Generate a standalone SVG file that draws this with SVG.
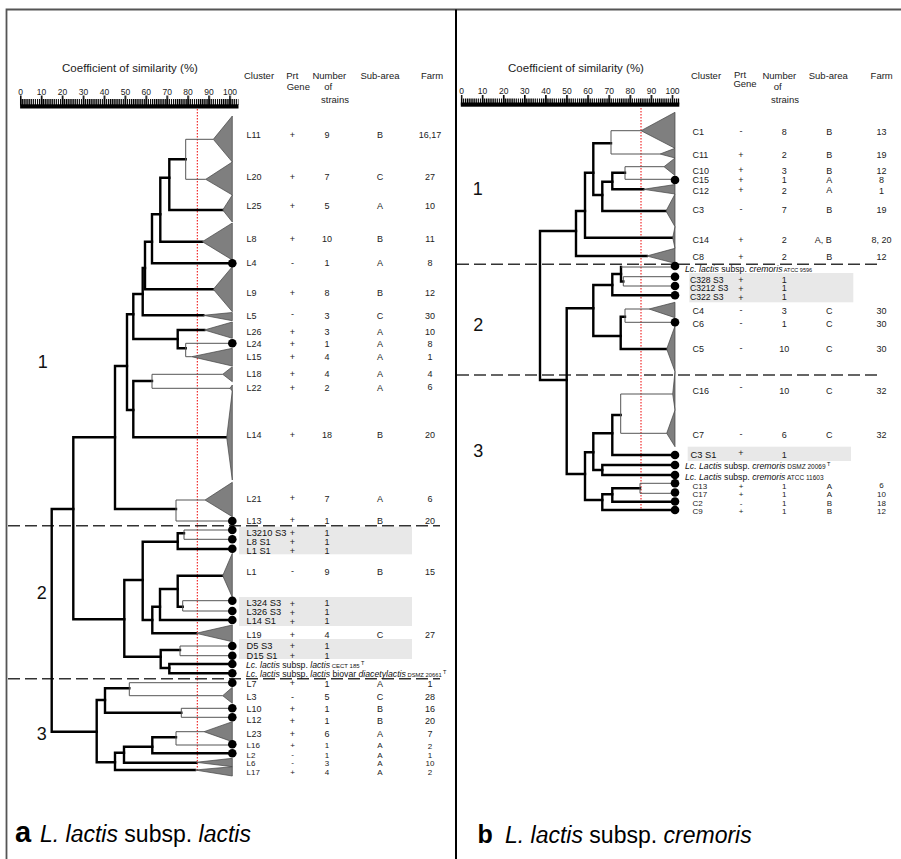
<svg xmlns="http://www.w3.org/2000/svg" width="901" height="859" viewBox="0 0 901 859">
<style>
.ln{fill:none;stroke:#000;stroke-width:2.4;stroke-linecap:square}
.tn{fill:none;stroke:#555;stroke-width:1}
.tri{fill:#7f7f7f;stroke:#444;stroke-width:0.7}
.dt{fill:#000}
.t{font-family:"Liberation Sans",Arial,Helvetica,sans-serif;font-size:9px;fill:#222}
.c{text-anchor:middle}
.hd{font-size:9.5px}
.sc{font-size:8.5px;text-anchor:middle}
.st{font-size:9.3px;fill:#111}
.sr{font-size:8.6px;fill:#111}
.sp{font-size:8.7px;fill:#111}
.dn{font-size:8px}
.ttl{font-size:11.5px;text-anchor:middle}
.big{font-size:18px;fill:#111;text-anchor:middle}
.dash{fill:none;stroke:#333;stroke-width:1.5;stroke-dasharray:12 5}
.red{fill:none;stroke:#e00;stroke-width:1;stroke-dasharray:1.5 1.5}
.box{fill:#e8e8e8}
.i{font-style:italic}
</style>
<defs>
<pattern id="tkL" patternUnits="userSpaceOnUse" x="20.1" y="0" width="2.093" height="10"><rect width="1.3" height="10" fill="#000"/></pattern>
<pattern id="mjL" patternUnits="userSpaceOnUse" x="19.9" y="0" width="20.93" height="10"><rect width="1.6" height="10" fill="#000"/></pattern>
<pattern id="tkR" patternUnits="userSpaceOnUse" x="460.8" y="0" width="2.11" height="10"><rect width="1.3" height="10" fill="#000"/></pattern>
<pattern id="mjR" patternUnits="userSpaceOnUse" x="460.7" y="0" width="21.1" height="10"><rect width="1.6" height="10" fill="#000"/></pattern>
</defs>
<rect width="901" height="859" fill="#fff"/>
<!-- frame -->
<g id="frame">
<path d="M6.5 859 V9.5 H901" fill="none" stroke="#555" stroke-width="1.8"/>
<path d="M456 9.5 V859" fill="none" stroke="#000" stroke-width="2"/>
</g>
<!-- highlight boxes -->
<g id="boxes">
<rect class="box" x="239" y="526.7" width="173" height="27.6"/>
<rect class="box" x="239" y="597" width="173" height="29"/>
<rect class="box" x="239" y="639" width="173" height="20"/>
<rect class="box" x="689.3" y="273" width="164" height="29.3"/>
<rect class="box" x="687.7" y="446.7" width="163.3" height="14.3"/>
</g>
<!-- scales -->
<g id="scale-a">
<text class="t ttl" x="130" y="71.5">Coefficient of similarity (%)</text>
<rect x="20.1" y="99" width="218.4" height="6" fill="url(#tkL)"/>
<rect x="19.9" y="95.5" width="212" height="10" fill="url(#mjL)"/>
<rect x="20.1" y="104.3" width="218.4" height="4.2" fill="#000"/>
<g class="t sc">
<text x="20.7" y="94.5">0</text><text x="41.6" y="94.5">10</text><text x="62.6" y="94.5">20</text><text x="83.5" y="94.5">30</text><text x="104.4" y="94.5">40</text><text x="125.4" y="94.5">50</text><text x="146.3" y="94.5">60</text><text x="167.2" y="94.5">70</text><text x="188.1" y="94.5">80</text><text x="209.1" y="94.5">90</text><text x="230" y="94.5">100</text>
</g>
<g class="t hd c">
<text x="259" y="78.7">Cluster</text>
<text x="292.3" y="78.7">Prt</text><text x="298.3" y="89.5">Gene</text>
<text x="329.3" y="78.7">Number</text><text x="328.3" y="90">of</text><text x="335" y="103.3">strains</text>
<text x="380" y="78.7">Sub-area</text>
<text x="432" y="78.7">Farm</text>
</g>
</g>
<g id="scale-b">
<text class="t ttl" x="576" y="71.5">Coefficient of similarity (%)</text>
<rect x="460.8" y="98.5" width="218.5" height="6" fill="url(#tkR)"/>
<rect x="460.7" y="95" width="213" height="10" fill="url(#mjR)"/>
<rect x="460.8" y="102.5" width="218.5" height="4.2" fill="#000"/>
<g class="t sc">
<text x="461.5" y="94">0</text><text x="482.6" y="94">10</text><text x="503.7" y="94">20</text><text x="524.8" y="94">30</text><text x="545.9" y="94">40</text><text x="567" y="94">50</text><text x="588.1" y="94">60</text><text x="609.2" y="94">70</text><text x="630.3" y="94">80</text><text x="651.4" y="94">90</text><text x="672.5" y="94">100</text>
</g>
<g class="t hd c">
<text x="706" y="78.7">Cluster</text>
<text x="740" y="77.5">Prt</text><text x="745" y="87">Gene</text>
<text x="779.3" y="78.7">Number</text><text x="777.7" y="90">of</text><text x="785" y="103.3">strains</text>
<text x="828.3" y="78.7">Sub-area</text>
<text x="881.7" y="78.7">Farm</text>
</g>
</g>
<!-- cut lines -->
<g id="cuts">
<line class="red" x1="197.3" y1="109" x2="197.3" y2="771"/>
<line class="red" x1="641" y1="108" x2="641" y2="511"/>
<line class="dash" x1="8" y1="525.7" x2="440" y2="525.7"/>
<line class="dash" x1="8" y1="678.7" x2="440" y2="678.7"/>
<line class="dash" x1="457" y1="264.3" x2="880" y2="264.3"/>
<line class="dash" x1="457" y1="375" x2="880" y2="375"/>
</g>
<!-- connectors -->
<g id="connectors">
<path class="ln" d="M185.7 159.3 H169.3 V210 H222.7"/>
<path class="ln" d="M169.3 177.7 H160.3 V241.7 H202.3"/>
<path class="ln" d="M160.3 214.3 H152 V263.3 H228"/>
<path class="ln" d="M152 241.7 H145 V289.3 H213.3"/>
<path class="ln" d="M145 268 H142.7 V315.3 H203.3"/>
<path class="ln" d="M142.7 294 H133.3 V339 H177.7"/>
<path class="ln" d="M204.3 330 H177.7 V348.3 H185.7"/>
<path class="ln" d="M133.3 314.3 H127 V410 H133.3"/>
<path class="ln" d="M152 381 H133.3 V437.3 H226.7"/>
<path class="ln" d="M127 366 H115 V509 H176"/>
<path class="ln" d="M115 437.3 H73.3 V619.3 H124.3"/>
<path class="ln" d="M73.3 509 H51.7 V731.7 H96.7"/>
<path class="ln" d="M142.7 580 H124.3 V656.7 H160.7"/>
<path class="ln" d="M177.7 541.7 H142.7 V620 H152.3"/>
<path class="ln" d="M184 533.3 H177.7 V549 H228"/>
<path class="ln" d="M160 606.7 H152.3 V633.3 H196"/>
<path class="ln" d="M177.7 589 H160 V620 H228"/>
<path class="ln" d="M222.7 575.7 H177.7 V606.7 H182.7"/>
<path class="ln" d="M180 650 H160.7 V668 H169.3"/>
<path class="ln" d="M228 664 H169.3 V673.3 H228"/>
<path class="ln" d="M105 700 H96.7 V762.3 H115"/>
<path class="ln" d="M129.3 688.3 H105 V712.7 H181.3"/>
<path class="ln" d="M124 752.7 H115 V770 H195"/>
<path class="ln" d="M152.3 746.7 H124 V762.7 H196"/>
<path class="ln" d="M176 737.3 H152.3 V753.3 H228"/>
<path class="tn" d="M213.3 139.3 H185.7 V179.3 H205.7"/>
<path class="tn" d="M232.3 343.3 H185.7 V356.7 H191.7"/>
<path class="tn" d="M222.7 374.3 H152 V388.3 H230"/>
<path class="tn" d="M205 500 H176 V521 H232.3"/>
<path class="tn" d="M232.3 530 H184 V539.3 H232.3"/>
<path class="tn" d="M232.3 600.7 H182.7 V611 H232.3"/>
<path class="tn" d="M232.3 646 H180 V655.7 H232.3"/>
<path class="tn" d="M232.3 682.7 H129.3 V695.7 H222.7"/>
<path class="tn" d="M232.3 708.3 H181.3 V717.3 H232.3"/>
<path class="tn" d="M204 731.7 H176 V745 H232.3"/>
<path class="ln" d="M611 143.3 H593.3 V195 H602.3"/>
<path class="ln" d="M625 172.7 H612.3 V189.3 H643.3"/>
<path class="ln" d="M612.3 181.7 H602.3 V211 H666"/>
<path class="ln" d="M593.3 172.7 H585 V237.7 H672.7"/>
<path class="ln" d="M585 211 H576 V256 H646.7"/>
<path class="ln" d="M576 231 H540 V380 H566.7"/>
<path class="ln" d="M593.3 308.3 H566.7 V474 H585"/>
<path class="ln" d="M612.3 285 H593.3 V336 H620.7"/>
<path class="ln" d="M621 274 H612.3 V295.3 H671"/>
<path class="ln" d="M623.3 281.5 H621 V267"/>
<path class="ln" d="M625 316.7 H620.7 V349 H666.7"/>
<path class="ln" d="M593.3 452.3 H585 V500 H602.3"/>
<path class="ln" d="M612.3 433.3 H593.3 V470 H602.3"/>
<path class="ln" d="M620.7 415 H612.3 V455 H671"/>
<path class="ln" d="M671 465 H602.3 V475 H671"/>
<path class="ln" d="M612.3 494.3 H602.3 V510 H671"/>
<path class="ln" d="M640 488.3 H612.3 V501.7 H671"/>
<path class="tn" d="M641 130.7 H611 V154 H660"/>
<path class="tn" d="M664 166.7 H625 V179.3 H675"/>
<path class="tn" d="M621 267 H675"/>
<path class="tn" d="M675 276.7 H623.3 V286 H675"/>
<path class="tn" d="M649 309 H625 V322.3 H675"/>
<path class="tn" d="M672.7 394 H620.7 V433.3 H666.7"/>
<path class="tn" d="M675 483.3 H640 V493.3 H675"/>
</g>
<!-- left leaves -->
<g id="leaves-a">
<polygon class="tri" points="213.3,139.3 232.3,116 232.3,162"/>
<polygon class="tri" points="205.7,179.3 232.3,162 232.3,195"/>
<polygon class="tri" points="222.7,210 232.3,195 232.3,222"/>
<polygon class="tri" points="202.3,241.7 232.3,223 232.3,260"/>
<polygon class="tri" points="213.3,289.3 232.3,266.7 232.3,311.7"/>
<polygon class="tri" points="203.3,315.3 232.3,312.5 232.3,320.7"/>
<polygon class="tri" points="204.3,330 232.3,322 232.3,338.3"/>
<polygon class="tri" points="191.7,356.7 232.3,348.3 232.3,366"/>
<polygon class="tri" points="222.7,374.3 232.3,366.7 232.3,381.7"/>
<polygon class="tri" points="230,388.3 232.3,385 232.3,391"/>
<polygon class="tri" points="226.7,437.3 232.3,391 232.3,480"/>
<polygon class="tri" points="205,500 232.3,482.3 232.3,516.7"/>
<polygon class="tri" points="222.7,575.7 232.3,553.3 232.3,597.3"/>
<polygon class="tri" points="196,633.3 232.3,625 232.3,641.7"/>
<polygon class="tri" points="222.7,695.7 232.3,687.3 232.3,703.3"/>
<polygon class="tri" points="204,731.7 232.3,721.7 232.3,741.7"/>
<polygon class="tri" points="196,762.3 232.3,758.3 232.3,766.7"/>
<polygon class="tri" points="195,770 232.3,766.7 232.3,776"/>
<g class="dt">
<circle cx="232.3" cy="263.3" r="4.3"/><circle cx="232.3" cy="343.3" r="4.3"/><circle cx="232.3" cy="521" r="4.3"/>
<circle cx="232.3" cy="530" r="4.3"/><circle cx="232.3" cy="539.3" r="4.3"/><circle cx="232.3" cy="548.7" r="4.3"/>
<circle cx="232.3" cy="600.7" r="4.3"/><circle cx="232.3" cy="611" r="4.3"/><circle cx="232.3" cy="620" r="4.3"/>
<circle cx="232.3" cy="646" r="4.3"/><circle cx="232.3" cy="655.7" r="4.3"/><circle cx="232.3" cy="664" r="4.3"/><circle cx="232.3" cy="673.3" r="4.3"/><circle cx="232.3" cy="682.7" r="4.3"/>
<circle cx="232.3" cy="708.3" r="4.3"/><circle cx="232.3" cy="717.3" r="4.3"/>
<circle cx="232.3" cy="744.3" r="4.3"/><circle cx="232.3" cy="753.3" r="4.3"/>
</g>
</g>
<!-- left table -->
<g id="table-a" class="t">
<g id="L11"><text x="246.5" y="138.2">L11</text><text class="c" x="292.5" y="138.2">+</text><text class="c" x="327" y="138.2">9</text><text class="c" x="380" y="138.2">B</text><text class="c" x="430" y="138.2">16,17</text></g>
<g id="L20"><text x="246.5" y="180.2">L20</text><text class="c" x="292.5" y="180.2">+</text><text class="c" x="327" y="180.2">7</text><text class="c" x="380" y="180.2">C</text><text class="c" x="430" y="180.2">27</text></g>
<g id="L25"><text x="246.5" y="209.2">L25</text><text class="c" x="292.5" y="209.2">+</text><text class="c" x="327" y="209.2">5</text><text class="c" x="380" y="209.2">A</text><text class="c" x="430" y="209.2">10</text></g>
<g id="L8"><text x="246.5" y="242.2">L8</text><text class="c" x="292.5" y="242.2">+</text><text class="c" x="327" y="242.2">10</text><text class="c" x="380" y="242.2">B</text><text class="c" x="430" y="242.2">11</text></g>
<g id="L4"><text x="246.5" y="265.5">L4</text><text class="c" x="292.5" y="265.5">-</text><text class="c" x="327" y="265.5">1</text><text class="c" x="380" y="265.5">A</text><text class="c" x="430" y="265.5">8</text></g>
<g id="L9"><text x="246.5" y="296.2">L9</text><text class="c" x="292.5" y="296.2">+</text><text class="c" x="327" y="296.2">8</text><text class="c" x="380" y="296.2">B</text><text class="c" x="430" y="296.2">12</text></g>
<g id="L5"><text x="246.5" y="319.2">L5</text><text class="c" x="292.5" y="317">-</text><text class="c" x="327" y="319.2">3</text><text class="c" x="380" y="319.2">C</text><text class="c" x="430" y="319.2">30</text></g>
<g id="L26"><text x="246.5" y="335.2">L26</text><text class="c" x="292.5" y="335.2">+</text><text class="c" x="327" y="335.2">3</text><text class="c" x="380" y="335.2">A</text><text class="c" x="430" y="335.2">10</text></g>
<g id="L24"><text x="246.5" y="347.2">L24</text><text class="c" x="292.5" y="347.2">+</text><text class="c" x="327" y="347.2">1</text><text class="c" x="380" y="347.2">A</text><text class="c" x="430" y="347.2">8</text></g>
<g id="L15"><text x="246.5" y="360.2">L15</text><text class="c" x="292.5" y="360.2">+</text><text class="c" x="327" y="360.2">4</text><text class="c" x="380" y="360.2">A</text><text class="c" x="430" y="360.2">1</text></g>
<g id="L18"><text x="246.5" y="376.9">L18</text><text class="c" x="292.5" y="376.9">+</text><text class="c" x="327" y="376.9">4</text><text class="c" x="380" y="376.9">A</text><text class="c" x="430" y="376.9">4</text></g>
<g id="L22"><text x="246.5" y="391.2">L22</text><text class="c" x="292.5" y="391.2">+</text><text class="c" x="327" y="391.2">2</text><text class="c" x="380" y="391.2">A</text><text class="c" x="430" y="390">6</text></g>
<g id="L14"><text x="246.5" y="438.2">L14</text><text class="c" x="292.5" y="438.2">+</text><text class="c" x="327" y="438.2">18</text><text class="c" x="380" y="438.2">B</text><text class="c" x="430" y="438.2">20</text></g>
<g id="L21"><text x="246.5" y="502.2">L21</text><text class="c" x="292.5" y="500.5">+</text><text class="c" x="327" y="502.2">7</text><text class="c" x="380" y="502.2">A</text><text class="c" x="430" y="502.2">6</text></g>
<g id="L13"><text x="246.5" y="524.2">L13</text><text class="c" x="292.5" y="522.5">+</text><text class="c" x="327" y="524.2">1</text><text class="c" x="380" y="524.2">B</text><text class="c" x="430" y="524.2">20</text></g>
<g id="L3210S3"><text class="st" x="246.5" y="535.5">L3210 S3</text><text class="c" x="292.5" y="535.5">+</text><text class="c" x="327" y="535.5">1</text></g>
<g id="L8S1"><text class="st" x="246.5" y="544.5">L8 S1</text><text class="c" x="292.5" y="545">+</text><text class="c" x="327" y="544.5">1</text></g>
<g id="L1S1"><text class="st" x="246.5" y="553.5">L1 S1</text><text class="c" x="292.5" y="554">+</text><text class="c" x="327" y="553.5">1</text></g>
<g id="L1"><text x="246.5" y="575.2">L1</text><text class="c" x="292.5" y="574">-</text><text class="c" x="327" y="575.2">9</text><text class="c" x="380" y="575.2">B</text><text class="c" x="430" y="575.2">15</text></g>
<g id="L324S3"><text class="st" x="246.5" y="606.2">L324 S3</text><text class="c" x="292.5" y="607">+</text><text class="c" x="327" y="605.5">1</text></g>
<g id="L326S3"><text class="st" x="246.5" y="614.9">L326 S3</text><text class="c" x="292.5" y="616">+</text><text class="c" x="327" y="614.5">1</text></g>
<g id="L14S1"><text class="st" x="246.5" y="624.2">L14 S1</text><text class="c" x="292.5" y="625">+</text><text class="c" x="327" y="624.2">1</text></g>
<g id="L19"><text x="246.5" y="638.2">L19</text><text class="c" x="292.5" y="638.2">+</text><text class="c" x="327" y="638.2">4</text><text class="c" x="380" y="638.2">C</text><text class="c" x="430" y="638.2">27</text></g>
<g id="D5S3"><text class="st" x="246.5" y="649.2">D5 S3</text><text class="c" x="292.5" y="649.2">+</text><text class="c" x="327" y="649.2">1</text></g>
<g id="D15S1"><text class="st" x="246.5" y="658.9">D15 S1</text><text class="c" x="292.5" y="658.9">+</text><text class="c" x="327" y="658.9">1</text></g>
<g id="CECT185"><text class="sp" x="246" y="668.2"><tspan class="i">Lc. lactis</tspan> subsp. <tspan class="i">lactis</tspan><tspan font-size="6"> CECT 185</tspan><tspan font-size="5.5" dy="-3"> T</tspan></text></g>
<g id="DSMZ20661"><text class="sp" x="246" y="677.2"><tspan class="i">Lc. lactis</tspan> subsp. <tspan class="i">lactis</tspan> biovar <tspan class="i">diacetylactis</tspan><tspan font-size="5.8"> DSMZ 20661</tspan><tspan font-size="5.5" dy="-3"> T</tspan></text></g>
<g id="L7"><text x="246.5" y="686.5">L7</text><text class="c" x="292.5" y="685.5">+</text><text class="c" x="327" y="686.5">1</text><text class="c" x="380" y="686.5">A</text><text class="c" x="430" y="686.5">1</text></g>
<g id="L3"><text x="246.5" y="699.9">L3</text><text class="c" x="292.5" y="699.9">-</text><text class="c" x="327" y="699.9">5</text><text class="c" x="380" y="699.9">C</text><text class="c" x="430" y="699.9">28</text></g>
<g id="L10"><text x="246.5" y="712.2">L10</text><text class="c" x="292.5" y="712.2">+</text><text class="c" x="327" y="712.2">1</text><text class="c" x="380" y="712.2">B</text><text class="c" x="430" y="712.2">16</text></g>
<g id="L12"><text x="246.5" y="722.5">L12</text><text class="c" x="292.5" y="723.5">+</text><text class="c" x="327" y="723.5">1</text><text class="c" x="380" y="723.5">B</text><text class="c" x="430" y="723.5">20</text></g>
<g id="L23"><text x="246.5" y="736.5">L23</text><text class="c" x="292.5" y="736.5">+</text><text class="c" x="327" y="736.5">6</text><text class="c" x="380" y="736.5">A</text><text class="c" x="430" y="736.5">7</text></g>
<g id="L16" class="dn"><text x="246.5" y="748">L16</text><text class="c" x="292.5" y="748">+</text><text class="c" x="327" y="748">1</text><text class="c" x="380" y="748">A</text><text class="c" x="430" y="748.5">2</text></g>
<g id="L2" class="dn"><text x="246.5" y="757.5">L2</text><text class="c" x="292.5" y="756.5">-</text><text class="c" x="327" y="757.5">1</text><text class="c" x="380" y="757.5">A</text><text class="c" x="430" y="757.5">1</text></g>
<g id="L6" class="dn"><text x="246.5" y="766.3">L6</text><text class="c" x="292.5" y="765.3">-</text><text class="c" x="327" y="766.3">3</text><text class="c" x="380" y="766.3">A</text><text class="c" x="430" y="766.3">10</text></g>
<g id="L17" class="dn"><text x="246.5" y="775.3">L17</text><text class="c" x="292.5" y="775.3">+</text><text class="c" x="327" y="775.3">4</text><text class="c" x="380" y="775.3">A</text><text class="c" x="430" y="775.3">2</text></g>
</g>
<!-- right leaves -->
<g id="leaves-b">
<polygon class="tri" points="641,130.7 675,112.3 675,148.3"/>
<polygon class="tri" points="660,154 675,148.3 675,158"/>
<polygon class="tri" points="664,166.7 675,158 675,175.5"/>
<polygon class="tri" points="643.3,189.3 675,184.5 675,194"/>
<polygon class="tri" points="666,211 675,194 675,226.7"/>
<polygon class="tri" points="672.7,237.7 675,226.7 675,248.3"/>
<polygon class="tri" points="646.7,256 675,248.3 675,263.3"/>
<polygon class="tri" points="649,309 675,302.3 675,317.7"/>
<polygon class="tri" points="666.7,349 675,326 675,371.7"/>
<polygon class="tri" points="672.7,394 675,371.7 675,410"/>
<polygon class="tri" points="666.7,433.3 675,410 675,446.7"/>
<g class="dt">
<circle cx="675" cy="180" r="4.3"/>
<circle cx="675" cy="266" r="4.3"/><circle cx="675" cy="276.7" r="4.3"/><circle cx="675" cy="286" r="4.3"/><circle cx="675" cy="295.3" r="4.3"/>
<circle cx="675" cy="322.3" r="4.3"/>
<circle cx="675" cy="455" r="4.3"/><circle cx="675" cy="465" r="4.3"/><circle cx="675" cy="475" r="4.3"/><circle cx="675" cy="483.3" r="4.3"/><circle cx="675" cy="492.5" r="4.3"/><circle cx="675" cy="501.5" r="4.3"/><circle cx="675" cy="510" r="4.3"/>
</g>
</g>
<!-- right table -->
<g id="table-b" class="t">
<g id="C1"><text x="692.5" y="134.9">C1</text><text class="c" x="741" y="133.5">-</text><text class="c" x="784.3" y="134.9">8</text><text class="c" x="829.3" y="134.9">B</text><text class="c" x="881.5" y="134.9">13</text></g>
<g id="C11"><text x="692.5" y="157.5">C11</text><text class="c" x="741" y="157.5">+</text><text class="c" x="784.3" y="157.5">2</text><text class="c" x="829.3" y="157.5">B</text><text class="c" x="881.5" y="157.5">19</text></g>
<g id="C10"><text x="692.5" y="173.9">C10</text><text class="c" x="741" y="172.5">+</text><text class="c" x="784.3" y="173.9">3</text><text class="c" x="829.3" y="173.9">B</text><text class="c" x="881.5" y="173.9">12</text></g>
<g id="C15"><text x="692.5" y="183.2">C15</text><text class="c" x="741" y="183.2">+</text><text class="c" x="784.3" y="183.2">1</text><text class="c" x="829.3" y="183.2">A</text><text class="c" x="881.5" y="183.2">8</text></g>
<g id="C12"><text x="692.5" y="194.2">C12</text><text class="c" x="741" y="192.5">+</text><text class="c" x="784.3" y="194.2">2</text><text class="c" x="829.3" y="192.5">A</text><text class="c" x="881.5" y="194.2">1</text></g>
<g id="C3"><text x="692.5" y="213.2">C3</text><text class="c" x="741" y="212">-</text><text class="c" x="784.3" y="213.2">7</text><text class="c" x="829.3" y="213.2">B</text><text class="c" x="881.5" y="213.2">19</text></g>
<g id="C14"><text x="692.5" y="242.5">C14</text><text class="c" x="741" y="242.5">+</text><text class="c" x="784.3" y="242.5">2</text><text class="c" x="823.3" y="242.5">A, B</text><text class="c" x="881.5" y="242.5">8, 20</text></g>
<g id="C8"><text x="692.5" y="259.9">C8</text><text class="c" x="741" y="259.9">+</text><text class="c" x="784.3" y="259.9">2</text><text class="c" x="829.3" y="259.9">B</text><text class="c" x="881.5" y="259.9">12</text></g>
<g id="ATCC9596"><text class="sp" x="685" y="272.3"><tspan class="i">Lc. lactis</tspan> subsp. <tspan class="i">cremoris</tspan><tspan font-size="5.5"> ATCC 9596</tspan></text></g>
<g id="C328S3"><text class="sr" x="690" y="282.6">C328 S3</text><text class="c" x="741" y="283.3">+</text><text class="c" x="784.3" y="282.6">1</text></g>
<g id="C3212S3"><text class="sr" x="690" y="291.2">C3212 S3</text><text class="c" x="741" y="292">+</text><text class="c" x="784.3" y="291.2">1</text></g>
<g id="C322S3"><text class="sr" x="690" y="299.9">C322 S3</text><text class="c" x="741" y="300.5">+</text><text class="c" x="784.3" y="299.9">1</text></g>
<g id="C4"><text x="692.5" y="314.2">C4</text><text class="c" x="741" y="312.5">-</text><text class="c" x="784.3" y="314.2">3</text><text class="c" x="829.3" y="314.2">C</text><text class="c" x="881.5" y="314.2">30</text></g>
<g id="C6"><text x="692.5" y="327.2">C6</text><text class="c" x="741" y="325.5">-</text><text class="c" x="784.3" y="327.2">1</text><text class="c" x="829.3" y="327.2">C</text><text class="c" x="881.5" y="327.2">30</text></g>
<g id="C5"><text x="692.5" y="352.2">C5</text><text class="c" x="741" y="350.5">-</text><text class="c" x="784.3" y="352.2">10</text><text class="c" x="829.3" y="352.2">C</text><text class="c" x="881.5" y="352.2">30</text></g>
<g id="C16"><text x="692.5" y="393.9">C16</text><text class="c" x="741" y="390">-</text><text class="c" x="784.3" y="393.9">10</text><text class="c" x="829.3" y="393.9">C</text><text class="c" x="881.5" y="393.9">32</text></g>
<g id="C7"><text x="692.5" y="437.5">C7</text><text class="c" x="741" y="436.5">-</text><text class="c" x="784.3" y="437.5">6</text><text class="c" x="829.3" y="437.5">C</text><text class="c" x="881.5" y="437.5">32</text></g>
<g id="C3S1"><text class="st" x="690.5" y="457.5">C3 S1</text><text class="c" x="741" y="456">+</text><text class="c" x="784.3" y="457.5">1</text></g>
<g id="DSMZ20069"><text class="sp" x="685" y="468.9"><tspan class="i">Lc. Lactis</tspan> subsp. <tspan class="i">cremoris</tspan><tspan font-size="6.5"> DSMZ 20069</tspan><tspan font-size="5.5" dy="-3"> T</tspan></text></g>
<g id="ATCC11603"><text class="sp" x="685" y="479.5"><tspan class="i">Lc. Lactis</tspan> subsp. <tspan class="i">cremoris</tspan><tspan font-size="6.5"> ATCC 11603</tspan></text></g>
<g id="C13" class="dn"><text x="692.5" y="488.8">C13</text><text class="c" x="741" y="488.8">+</text><text class="c" x="784.3" y="488.8">1</text><text class="c" x="829.3" y="488.8">A</text><text class="c" x="881.5" y="487.5">6</text></g>
<g id="C17" class="dn"><text x="692.5" y="497.2">C17</text><text class="c" x="741" y="497.2">+</text><text class="c" x="784.3" y="497.2">1</text><text class="c" x="829.3" y="497.2">A</text><text class="c" x="881.5" y="497.2">10</text></g>
<g id="C2" class="dn"><text x="692.5" y="505.6">C2</text><text class="c" x="741" y="505.6">-</text><text class="c" x="784.3" y="505.6">1</text><text class="c" x="829.3" y="505.6">B</text><text class="c" x="881.5" y="505.6">18</text></g>
<g id="C9" class="dn"><text x="692.5" y="514">C9</text><text class="c" x="741" y="514">+</text><text class="c" x="784.3" y="514">1</text><text class="c" x="829.3" y="514">B</text><text class="c" x="881.5" y="514">12</text></g>
</g>
<!-- group numbers -->
<g id="groups" class="t">
<text class="big" x="42.7" y="368.3">1</text>
<text class="big" x="41.7" y="598.5">2</text>
<text class="big" x="41.7" y="740">3</text>
<text class="big" x="477.7" y="195">1</text>
<text class="big" x="478.3" y="331">2</text>
<text class="big" x="478.3" y="456.7">3</text>
</g>
<!-- panel titles -->
<g id="titles" style="font-family:'Liberation Sans',Arial,Helvetica,sans-serif;fill:#000">
<text x="15" y="841.7" font-size="29" font-weight="bold">a</text>
<text x="40" y="841.7" font-size="23"><tspan class="i">L. lactis</tspan> subsp. <tspan class="i">lactis</tspan></text>
<text x="477.5" y="843.3" font-size="25" font-weight="bold">b</text>
<text x="505" y="843.3" font-size="23"><tspan class="i">L. lactis</tspan> subsp. <tspan class="i">cremoris</tspan></text>
</g>
</svg>
